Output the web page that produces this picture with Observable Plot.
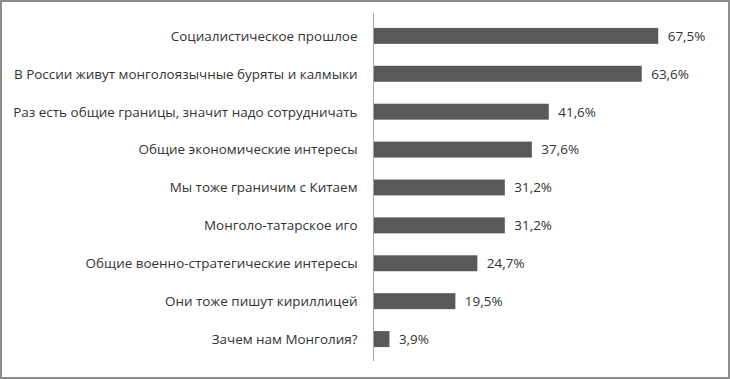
<!DOCTYPE html>
<html><head><meta charset="utf-8">
<script src="https://cdn.jsdelivr.net/npm/d3@7"></script>
<script src="https://cdn.jsdelivr.net/npm/@observablehq/plot@0.6"></script>
<style>
html,body{margin:0;padding:0;background:#fff;}
#frame{width:726px;height:375px;border:2px solid #8c8c8c;position:relative;overflow:hidden;background:#fff;}
#chart{position:absolute;left:-2px;top:-2px;}
</style></head>
<body><div id="frame"><div id="chart"></div></div>
<script>
const categories = [
  "Социалистическое прошлое",
  "В России живут монголоязычные буряты и калмыки",
  "Раз есть общие границы, значит надо сотрудничать",
  "Общие экономические интересы",
  "Мы тоже граничим с Китаем",
  "Монголо-татарское иго",
  "Общие военно-стратегические интересы",
  "Они тоже пишут кириллицей",
  "Зачем нам Монголия?"
];
const values = [67.5, 63.6, 41.6, 37.6, 31.2, 31.2, 24.7, 19.5, 3.9];
const data = categories.map((c, i) => ({category: c, value: values[i]}));
const fmt = v => v.toFixed(1).replace(".", ",") + "%";

const chart = Plot.plot({
  width: 730,
  height: 379,
  marginLeft: 374,
  marginRight: 17,
  marginTop: 13,
  marginBottom: 17,
  style: {fontFamily: "'Open Sans', sans-serif", fontSize: "13.5px", color: "#333", background: "transparent"},
  x: {domain: [0, 80], axis: null},
  y: {domain: categories, paddingInner: 0.58, paddingOuter: 0.29, axis: null},
  marks: [
    Plot.barX(data, {x: "value", y: "category", fill: "#595959"}),
    Plot.text(data, {x: 0, y: "category", text: "category", textAnchor: "end", dx: -16, fill: "#333", fontSize: 13.5}),
    Plot.text(data, {x: "value", y: "category", text: d => fmt(d.value), textAnchor: "start", dx: 9, fill: "#333", fontSize: 13.5}),
    Plot.ruleX([0], {stroke: "#a6a6a6", strokeWidth: 1})
  ]
});
document.getElementById("chart").appendChild(chart);
</script></body></html>
